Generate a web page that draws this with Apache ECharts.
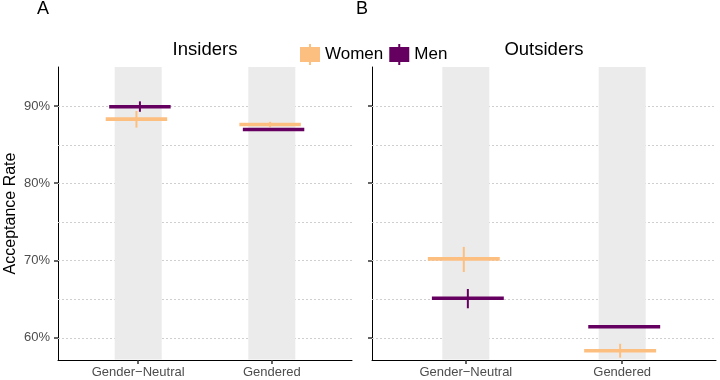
<!DOCTYPE html>
<html><head><meta charset="utf-8">
<script src="https://cdn.jsdelivr.net/npm/echarts@6/dist/echarts.min.js"></script>
<style>html,body{margin:0;padding:0;background:#fff}#c{width:720px;height:380px}</style>
</head><body><div id="c"></div>
<script>
// ---- data ----
const categories = ['Gender\u2212Neutral', 'Gendered'];
const categoryPos = [1, 2];
const panelTitles = ['Insiders', 'Outsiders'];
const panelLabels = ['A', 'B'];
const groups = ['Women', 'Men'];
const yTickValues = [60, 70, 80, 90];
const gridValues = [60, 65, 70, 75, 80, 85, 90];

const insidersWomenMean = [88.3, 87.6];
const insidersWomenLo   = [87.2, 87.25];
const insidersWomenHi   = [89.35, 87.95];
const insidersMenMean   = [89.9, 86.95];
const insidersMenLo     = [89.25, 86.85];
const insidersMenHi     = [90.6, 87.05];

const outsidersWomenMean = [70.2, 58.3];
const outsidersWomenLo   = [68.5, 57.4];
const outsidersWomenHi   = [71.75, 59.2];
const outsidersMenMean   = [65.1, 61.4];
const outsidersMenLo     = [63.8, 61.3];
const outsidersMenHi     = [66.3, 61.5];

// ---- style ----
const colors = { Women: '#FDBF80', Men: '#660060' };
const FONT = 'Liberation Sans, Arial, sans-serif';
const dodge = { Women: -0.013, Men: 0.013 };
const halfLen = 0.23;

function rows(mean, lo, hi) {
  return categoryPos.map((x, i) => [x, mean[i], lo[i], hi[i]]);
}
const panelData = [
  { Women: rows(insidersWomenMean, insidersWomenLo, insidersWomenHi),
    Men: rows(insidersMenMean, insidersMenLo, insidersMenHi) },
  { Women: rows(outsidersWomenMean, outsidersWomenLo, outsidersWomenHi),
    Men: rows(outsidersMenMean, outsidersMenLo, outsidersMenHi) }
];

const grids = [
  { left: 58, right: 720 - 352, top: 67, bottom: 20, outerBoundsMode: 'none', containLabel: false },
  { left: 372, right: 4, top: 67, bottom: 20, outerBoundsMode: 'none', containLabel: false }
];

const xAxes = grids.map((g, i) => ({
  type: 'value', gridIndex: i, min: 0.4, max: 2.6,
  axisLine: { show: true, lineStyle: { color: '#000', width: 1 } },
  axisTick: { show: true, customValues: categoryPos, length: 4, lineStyle: { color: '#333', width: 1.5 } },
  axisLabel: { customValues: categoryPos, formatter: v => categories[Math.round(v) - 1],
    color: '#4D4D4D', fontSize: 13, fontFamily: FONT, margin: 6 },
  splitLine: { show: false }
}));

const yAxes = grids.map((g, i) => ({
  type: 'value', gridIndex: i, min: 57.1, max: 95.05,
  name: i === 0 ? 'Acceptance Rate' : '', nameLocation: 'middle', nameGap: 39,
  nameTextStyle: { color: '#000', fontSize: 16, fontFamily: FONT },
  axisLine: { show: true, lineStyle: { color: '#000', width: 1 } },
  axisTick: { show: true, customValues: yTickValues, length: 4, lineStyle: { color: '#333', width: 1.5 } },
  axisLabel: { show: i === 0, customValues: yTickValues, formatter: v => v + '%',
    color: '#4D4D4D', fontSize: 13, fontFamily: FONT, margin: 8 },
  splitLine: { show: false }
}));

const series = [];
grids.forEach((g, p) => {
  // grid lines
  series.push({
    type: 'custom', xAxisIndex: p, yAxisIndex: p, silent: true,
    data: gridValues.map(v => [1, v]), encode: { x: 0, y: 1 },
    renderItem: (params, api) => {
      const cs = params.coordSys;
      const y = Math.round(api.coord([1, api.value(1)])[1]) + 0.5;
      return { type: 'line', shape: { x1: cs.x, y1: y, x2: cs.x + cs.width, y2: y },
        style: { stroke: '#CFCFCF', lineWidth: 1, lineDash: [2, 2] } };
    }
  });
  // grey bands
  series.push({
    type: 'custom', xAxisIndex: p, yAxisIndex: p, silent: true,
    data: categoryPos.map(x => [x, 60]), encode: { x: 0, y: 1 },
    renderItem: (params, api) => {
      const cs = params.coordSys;
      const x = api.coord([api.value(0), 60])[0];
      return { type: 'rect', shape: { x: x - 23.5, y: cs.y, width: 47, height: cs.height - 0.5 },
        style: { fill: '#EBEBEB' } };
    }
  });
  // means + CIs
  groups.forEach(gname => {
    series.push({
      name: gname, type: 'custom', xAxisIndex: p, yAxisIndex: p,
      itemStyle: { color: colors[gname] },
      data: panelData[p][gname], encode: { x: 0, y: [1, 2, 3] },
      renderItem: (params, api) => {
        const x = api.value(0) + dodge[gname];
        const m = api.value(1), lo = api.value(2), hi = api.value(3);
        const a = api.coord([x - halfLen, m]), b = api.coord([x + halfLen, m]);
        const c1 = api.coord([x, lo]), c2 = api.coord([x, hi]);
        return { type: 'group', children: [
          { type: 'line', shape: { x1: a[0], y1: a[1], x2: b[0], y2: b[1] },
            style: { stroke: colors[gname], lineWidth: 3.6 } },
          { type: 'line', shape: { x1: c1[0], y1: c1[1], x2: c2[0], y2: c2[1] },
            style: { stroke: colors[gname], lineWidth: 2 } }
        ] };
      }
    });
  });
});

const iconPath = 'path://M0,3H20V18H0Z M9,0H11V21H9Z';

const option = {
  backgroundColor: '#fff',
  animation: false,
  grid: grids,
  xAxis: xAxes,
  yAxis: yAxes,
  legend: {
    left: 300, top: 44, padding: 0, itemWidth: 20, itemHeight: 21, itemGap: 6,
    selectedMode: false,
    textStyle: { color: '#000', fontSize: 17, fontFamily: FONT },
    data: groups.map(n => ({ name: n, icon: iconPath, itemStyle: { color: colors[n] } }))
  },
  graphic: [
    { type: 'text', x: 205, y: 50, style: { text: panelTitles[0], textAlign: 'center', textVerticalAlign: 'middle', fill: '#000', font: '18.5px ' + FONT } },
    { type: 'text', x: 544, y: 50, style: { text: panelTitles[1], textAlign: 'center', textVerticalAlign: 'middle', fill: '#000', font: '18.5px ' + FONT } },
    { type: 'text', x: 43, y: 9, style: { text: panelLabels[0], textAlign: 'center', textVerticalAlign: 'middle', fill: '#000', font: '18px ' + FONT } },
    { type: 'text', x: 362, y: 9, style: { text: panelLabels[1], textAlign: 'center', textVerticalAlign: 'middle', fill: '#000', font: '18px ' + FONT } }
  ],
  series: series
};

const chart = echarts.init(document.getElementById('c'), null, { renderer: 'canvas' });
chart.setOption(option);
</script>
</body></html>
